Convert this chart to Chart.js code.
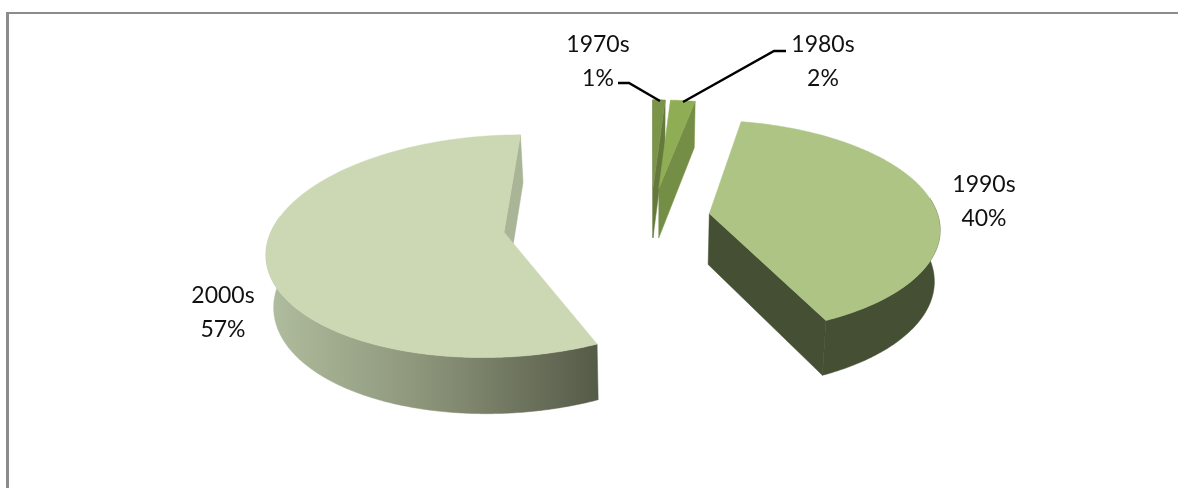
<!DOCTYPE html>
<html>
<head>
<meta charset="utf-8">
<style>
html,body{margin:0;padding:0;background:#fff;width:1178px;height:488px;overflow:hidden}
#frame{position:absolute;left:6px;top:12px;right:0;bottom:0;border-left:3px solid #8c8c8c;border-top:2px solid #8c8c8c}
canvas{position:absolute;left:0;top:0}
</style>
<script src="https://cdn.jsdelivr.net/npm/chart.js@4"></script>
</head>
<body>
<div id="frame"></div>
<canvas id="c" width="1178" height="488"></canvas>
<script>
const categories = ['1970s', '1980s', '1990s', '2000s'];
const shares = [1, 2, 40, 57];
const explode = [65, 65, 59, 148];

const topColors = ['#7a9448', '#8fad55', '#adc484', '#ccd8b4'];
const faceColors = ['#66793c', '#758e45', '#454f33', '#a9b596'];
const labelAnchors = [[598, 45], [823, 45], [984, 185], [223, 296]];
const leaders = [
  [[618, 83], [629, 83], [660, 101]],
  [[786, 51], [774, 51], [683, 102]]
];

const persp = 0.00054, tilt = 0.462, depth = 51, depthPersp = 0.00035, floorScale = 0.98;

function projector(arc) {
  const off = arc.options.offset;
  const mid = (arc.startAngle + arc.endAngle) / 2;
  return function (theta, r, low) {
    const wx = off * Math.cos(mid) + r * Math.cos(theta);
    const wy = off * Math.sin(mid) + r * Math.sin(theta);
    const w = 1 - persp * wy;
    const X = wx / w, Y = tilt * wy / w;
    if (!low) return [arc.x + X, arc.y + Y];
    return [arc.x + X * floorScale, arc.y + Y + depth / (1 - depthPersp * wy)];
  };
}
function poly(ctx, pts, fill) {
  ctx.beginPath();
  pts.forEach((p, i) => i ? ctx.lineTo(p[0], p[1]) : ctx.moveTo(p[0], p[1]));
  ctx.closePath();
  ctx.fillStyle = fill;
  ctx.fill();
  ctx.strokeStyle = fill;
  ctx.lineWidth = 0.5;
  ctx.stroke();
}
function samples(a, b) {
  const n = Math.max(2, Math.ceil((b - a) / 0.01));
  const out = [];
  for (let i = 0; i <= n; i++) out.push(a + (b - a) * i / n);
  return out;
}

const pie3d = {
  id: 'pie3d',
  beforeDatasetsDraw(chart) {
    const ctx = chart.ctx;
    const arcs = chart.getDatasetMeta(0).data;
    [0, 1, 3, 2].forEach(i => {
      const arc = arcs[i];
      const P = projector(arc);
      const R = arc.outerRadius, a = arc.startAngle, b = arc.endAngle;
      const apex = P(a, 0), pa = P(a, R), pb = P(b, R);
      let fill = faceColors[i];
      if (i === 3) {
        const g = ctx.createLinearGradient(272, 0, 600, 0);
        g.addColorStop(0, '#b0bc9e');
        g.addColorStop(0.45, '#8d967b');
        g.addColorStop(1, '#555a47');
        fill = g;
      }
      if (pa[0] - apex[0] < 0) poly(ctx, [apex, pa, P(a, R, true), P(a, 0, true)], faceColors[i]);
      if (pb[0] - apex[0] > 0) poly(ctx, [apex, pb, P(b, R, true), P(b, 0, true)], faceColors[i]);
      const segs = [];
      for (const k of [0, 2]) {
        const lo = Math.max(a, k * Math.PI - 0.15), hi = Math.min(b, (k + 1) * Math.PI + 0.15);
        if (hi > lo) segs.push([lo, hi]);
      }
      segs.forEach(([lo, hi]) => {
        const th = samples(lo, hi);
        poly(ctx, th.map(t => P(t, R)).concat(th.slice().reverse().map(t => P(t, R, true))), fill);
      });
      poly(ctx, [apex].concat(samples(a, b).map(t => P(t, R))), topColors[i]);
    });
    return false;
  },
  afterDraw(chart) {
    const ctx = chart.ctx;
    ctx.save();
    ctx.strokeStyle = '#000';
    ctx.lineWidth = 2.5;
    leaders.forEach(l => {
      ctx.beginPath();
      l.forEach((p, i) => i ? ctx.lineTo(p[0], p[1]) : ctx.moveTo(p[0], p[1]));
      ctx.stroke();
    });
    ctx.fillStyle = '#111';
    ctx.font = '23px Lato, "Open Sans", sans-serif';
    ctx.textAlign = 'center';
    ctx.textBaseline = 'middle';
    categories.forEach((c, i) => {
      const [x, y] = labelAnchors[i];
      ctx.fillText(c, x, y);
      ctx.fillText(shares[i] + '%', x, y + 34);
    });
    ctx.restore();
  }
};

new Chart(document.getElementById('c'), {
  type: 'pie',
  data: {
    labels: categories,
    datasets: [{
      data: shares,
      backgroundColor: topColors,
      borderWidth: 0,
      offset: explode,
      radius: 229
    }]
  },
  options: {
    responsive: false,
    animation: false,
    layout: { padding: { left: 124, bottom: 54 } },
    plugins: { legend: { display: false }, tooltip: { enabled: false } }
  },
  plugins: [pie3d]
});
</script>
</body>
</html>
